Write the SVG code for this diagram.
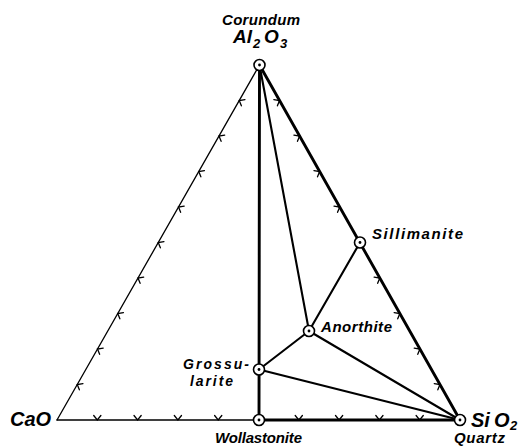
<svg xmlns="http://www.w3.org/2000/svg" xmlns:xlink="http://www.w3.org/1999/xlink" width="521" height="447" viewBox="0 0 521 447">
<defs>
<style>
.edge{fill:none;stroke:#000;stroke-linecap:round;}
.thin{stroke-width:1.3;}
.mid{stroke-width:2.1;}
.thick{stroke-width:2.9;}
.tick{fill:none;stroke:#000;stroke-width:1.3;stroke-linecap:round;stroke-linejoin:miter;}
.ring{fill:#fff;stroke:#000;stroke-width:1.6;}
.dot{fill:#000;}
.lbl{font-family:"Liberation Sans",Arial,sans-serif;font-style:italic;font-weight:bold;font-size:15px;fill:#000;}
.lbl.big{font-size:19px;}
.lbl.huge{font-size:20px;}
.lbl.sm{font-size:14px;}
.sub{font-size:13px;}
</style>
<path id="chev" d="M4.5,-3.6 L0,0 L4.5,3.6"/>
<g id="pt"><circle class="ring" r="5.5"/><circle class="dot" r="1.4"/></g>
</defs>
<rect width="521" height="447" fill="#fff"/>

<g id="connectors">
<line class="edge thin" x1="57" y1="420" x2="259.5" y2="65"/>
<line class="edge thin" x1="57" y1="420" x2="259" y2="420"/>
<line class="edge thick" x1="259" y1="420" x2="460" y2="420"/>
<line class="edge thick" x1="259.5" y1="65" x2="460" y2="420"/>
<line class="edge thick" x1="259.5" y1="65" x2="259" y2="420"/>
<line class="edge mid" x1="259.5" y1="65" x2="309" y2="331"/>
<line class="edge mid" x1="259" y1="369.5" x2="309" y2="331"/>
<line class="edge mid" x1="309" y1="331" x2="360" y2="242.5"/>
<line class="edge mid" x1="259" y1="369.5" x2="460" y2="420"/>
<line class="edge mid" x1="309" y1="331" x2="460" y2="420"/>
</g>

<g id="ticks" class="tick">
<use xlink:href="#chev" transform="translate(77.25,384.5) rotate(29.7)"/>
<use xlink:href="#chev" transform="translate(97.5,349) rotate(29.7)"/>
<use xlink:href="#chev" transform="translate(117.75,313.5) rotate(29.7)"/>
<use xlink:href="#chev" transform="translate(138,278) rotate(29.7)"/>
<use xlink:href="#chev" transform="translate(158.25,242.5) rotate(29.7)"/>
<use xlink:href="#chev" transform="translate(178.5,207) rotate(29.7)"/>
<use xlink:href="#chev" transform="translate(198.75,171.5) rotate(29.7)"/>
<use xlink:href="#chev" transform="translate(219,136) rotate(29.7)"/>
<use xlink:href="#chev" transform="translate(239.25,100.5) rotate(29.7)"/>
<use xlink:href="#chev" transform="translate(279.55,100.5) rotate(150.5)"/>
<use xlink:href="#chev" transform="translate(299.6,136) rotate(150.5)"/>
<use xlink:href="#chev" transform="translate(319.65,171.5) rotate(150.5)"/>
<use xlink:href="#chev" transform="translate(339.7,207) rotate(150.5)"/>
<use xlink:href="#chev" transform="translate(379.8,278) rotate(150.5)"/>
<use xlink:href="#chev" transform="translate(399.85,313.5) rotate(150.5)"/>
<use xlink:href="#chev" transform="translate(419.9,349) rotate(150.5)"/>
<use xlink:href="#chev" transform="translate(439.95,384.5) rotate(150.5)"/>
<use xlink:href="#chev" transform="translate(97.3,420) rotate(-90)"/>
<use xlink:href="#chev" transform="translate(137.6,420) rotate(-90)"/>
<use xlink:href="#chev" transform="translate(177.9,420) rotate(-90)"/>
<use xlink:href="#chev" transform="translate(218.2,420) rotate(-90)"/>
<use xlink:href="#chev" transform="translate(298.8,420) rotate(-90)"/>
<use xlink:href="#chev" transform="translate(339.1,420) rotate(-90)"/>
<use xlink:href="#chev" transform="translate(379.4,420) rotate(-90)"/>
<use xlink:href="#chev" transform="translate(419.7,420) rotate(-90)"/>
</g>

<g id="node-al2o3">
<use xlink:href="#pt" x="259.5" y="65"/>
<text class="lbl" x="222" y="25" textLength="78" lengthAdjust="spacing">Corundum</text>
<text class="lbl big"><tspan x="233" y="43">Al</tspan><tspan class="sub" x="253" y="48">2</tspan><tspan x="264" y="43">O</tspan><tspan class="sub" x="280" y="48">3</tspan></text>
</g>

<g id="node-cao">
<text class="lbl huge" x="10" y="426">CaO</text>
</g>

<g id="node-sio2">
<use xlink:href="#pt" x="460" y="420"/>
<text class="lbl huge"><tspan x="471" y="427">Si</tspan><tspan x="494" y="427">O</tspan><tspan class="sub" x="510" y="430">2</tspan></text>
<text class="lbl" x="454" y="443" textLength="51" lengthAdjust="spacing">Quartz</text>
</g>

<g id="node-wollastonite">
<use xlink:href="#pt" x="259" y="420"/>
<text class="lbl" x="215" y="443" textLength="87" lengthAdjust="spacing">Wollastonite</text>
</g>

<g id="node-grossularite">
<use xlink:href="#pt" x="259" y="369.5"/>
<text class="lbl sm" x="183" y="369" textLength="66" lengthAdjust="spacing">Grossu-</text>
<text class="lbl sm" x="190" y="386" textLength="43" lengthAdjust="spacing">larite</text>
</g>

<g id="node-anorthite">
<use xlink:href="#pt" x="309" y="331"/>
<text class="lbl" x="321" y="332" textLength="71" lengthAdjust="spacing">Anorthite</text>
</g>

<g id="node-sillimanite">
<use xlink:href="#pt" x="360" y="242.5"/>
<text class="lbl" x="372" y="239" textLength="91" lengthAdjust="spacing">Sillimanite</text>
</g>
</svg>
